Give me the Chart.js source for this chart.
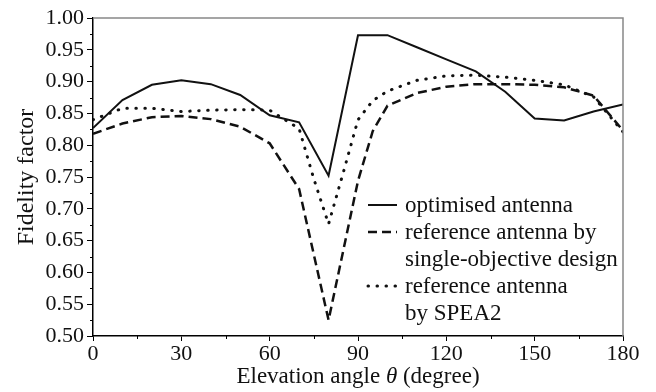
<!DOCTYPE html>
<html>
<head>
<meta charset="utf-8">
<script src="https://cdn.jsdelivr.net/npm/chart.js@4.4.1/dist/chart.umd.min.js"></script>
<style>
    html, body { margin: 0; padding: 0; background: #fff; }
</style>
</head>
<body>
<canvas id="fidelity-chart" width="656" height="392"></canvas>
<script>
// elevation angles (degree) and fidelity factor
var optimisedAngles = [0, 10, 20, 30, 40, 50, 60, 70, 80, 90, 100, 110, 120, 130, 140, 150, 160, 170, 180];
var optimisedValues = [0.827, 0.871, 0.895, 0.902, 0.896, 0.879, 0.847, 0.836, 0.752, 0.973, 0.973, 0.954, 0.935, 0.916, 0.884, 0.842, 0.839, 0.853, 0.864];

var singleAngles = [0, 10, 20, 30, 40, 50, 60, 70, 80, 90, 95, 100, 110, 120, 130, 140, 150, 160, 170, 180];
var singleValues = [0.818, 0.834, 0.844, 0.846, 0.841, 0.829, 0.803, 0.731, 0.525, 0.744, 0.822, 0.862, 0.882, 0.892, 0.896, 0.896, 0.895, 0.891, 0.878, 0.823];

var speaAngles = [0, 10, 20, 30, 40, 50, 60, 70, 75, 80, 85, 90, 95, 100, 110, 120, 130, 140, 150, 160, 170, 180];
var speaValues = [0.840, 0.858, 0.858, 0.853, 0.855, 0.856, 0.855, 0.826, 0.747, 0.676, 0.757, 0.840, 0.870, 0.885, 0.902, 0.909, 0.910, 0.907, 0.902, 0.895, 0.876, 0.821];

var xMinorTicks = [15, 45, 75, 105, 135, 165];
var yMinorTicks = [0.525, 0.575, 0.625, 0.675, 0.725, 0.775, 0.825, 0.875, 0.925, 0.975];

var xTitleParts = ['Elevation angle ', '\u03b8', ' (degree)'];
var yTitle = 'Fidelity factor';
var legendLabels = [
    ['optimised antenna'],
    ['reference antenna by', 'single-objective design'],
    ['reference antenna', 'by SPEA2']
];

var serif = '"Liberation Serif", "Times New Roman", serif';
var styles = [
    { dash: [], width: 2, cap: 'butt' },
    { dash: [9, 5], width: 2.5, cap: 'butt' },
    { dash: [0.5, 8.5], width: 3, cap: 'round' }
];

function toPoints(xs, ys) {
    var pts = [];
    for (var i = 0; i < xs.length; i++) {
        pts.push({ x: xs[i], y: ys[i] });
    }
    return pts;
}

var framePlugin = {
    id: 'frame',
    afterDraw: function (chart) {
        var ctx = chart.ctx;
        var area = chart.chartArea;
        var xs = chart.scales.x;
        var ys = chart.scales.y;

        ctx.save();
        // top and right border
        ctx.strokeStyle = '#888';
        ctx.lineWidth = 1.5;
        ctx.beginPath();
        ctx.moveTo(area.left, area.top);
        ctx.lineTo(area.right, area.top);
        ctx.lineTo(area.right, area.bottom);
        ctx.stroke();

        // minor ticks
        ctx.strokeStyle = '#000';
        ctx.lineWidth = 1;
        ctx.beginPath();
        xMinorTicks.forEach(function (v) {
            var px = Math.round(xs.getPixelForValue(v)) + 0.5;
            ctx.moveTo(px, area.bottom);
            ctx.lineTo(px, area.bottom + 3);
        });
        yMinorTicks.forEach(function (v) {
            var py = Math.round(ys.getPixelForValue(v)) + 0.5;
            ctx.moveTo(area.left, py);
            ctx.lineTo(area.left - 3, py);
        });
        ctx.stroke();

        // x axis title with italic theta
        ctx.fillStyle = '#111';
        ctx.textBaseline = 'alphabetic';
        var fonts = ['23px ' + serif, 'italic 23px ' + serif, '23px ' + serif];
        var total = 0;
        var widths = [];
        xTitleParts.forEach(function (t, i) {
            ctx.font = fonts[i];
            widths.push(ctx.measureText(t).width);
            total += widths[i];
        });
        var tx = (area.left + area.right) / 2 - total / 2;
        xTitleParts.forEach(function (t, i) {
            ctx.font = fonts[i];
            ctx.textAlign = 'left';
            ctx.fillText(t, tx, area.bottom + 47);
            tx += widths[i];
        });

        // legend
        var lineX0 = area.right - 255;
        var lineX1 = area.right - 226;
        var textX = area.right - 218;
        var rowY = area.bottom - 131;
        ctx.font = '23px ' + serif;
        ctx.textAlign = 'left';
        legendLabels.forEach(function (lines, i) {
            ctx.save();
            ctx.strokeStyle = '#111';
            ctx.lineWidth = styles[i].width;
            ctx.lineCap = styles[i].cap;
            ctx.setLineDash(styles[i].dash);
            ctx.beginPath();
            ctx.moveTo(lineX0, rowY);
            ctx.lineTo(lineX1, rowY);
            ctx.stroke();
            ctx.restore();
            lines.forEach(function (t) {
                ctx.fillText(t, textX, rowY + 7);
                rowY += 27;
            });
        });
        ctx.restore();
    }
};

var ctx = document.getElementById('fidelity-chart');
var FidelityChart = new Chart(ctx, {
    type: 'line',
    data: {
        datasets: [{
            label: legendLabels[0].join(' '),
            data: toPoints(optimisedAngles, optimisedValues),
            borderColor: '#111',
            borderWidth: styles[0].width,
            borderDash: styles[0].dash
        }, {
            label: legendLabels[1].join(' '),
            data: toPoints(singleAngles, singleValues),
            borderColor: '#111',
            borderWidth: styles[1].width,
            borderDash: styles[1].dash
        }, {
            label: legendLabels[2].join(' '),
            data: toPoints(speaAngles, speaValues),
            borderColor: '#111',
            borderWidth: styles[2].width,
            borderDash: styles[2].dash,
            borderCapStyle: styles[2].cap
        }]
    },
    plugins: [framePlugin],
    options: {
        responsive: false,
        animation: false,
        layout: {
            padding: { left: 0, top: 18, right: 33, bottom: 0 }
        },
        elements: {
            point: { radius: 0 },
            line: { tension: 0, fill: false }
        },
        plugins: {
            legend: { display: false },
            tooltip: { enabled: false }
        },
        scales: {
            x: {
                type: 'linear',
                min: 0,
                max: 180,
                ticks: {
                    stepSize: 30,
                    color: '#111',
                    padding: 0,
                    maxRotation: 0,
                    font: { family: serif, size: 22 }
                },
                grid: {
                    drawOnChartArea: false,
                    tickLength: 5,
                    tickColor: '#000'
                },
                border: { color: '#000', width: 1.5 },
                afterFit: function (scale) {
                    scale.height = 56;
                }
            },
            y: {
                min: 0.5,
                max: 1.0,
                ticks: {
                    stepSize: 0.05,
                    color: '#111',
                    padding: 3,
                    font: { family: serif, size: 22 },
                    callback: function (value) {
                        return value.toFixed(2);
                    }
                },
                grid: {
                    drawOnChartArea: false,
                    tickLength: 6,
                    tickColor: '#000'
                },
                border: { color: '#000', width: 1.5 },
                title: {
                    display: true,
                    text: yTitle,
                    color: '#111',
                    font: { family: serif, size: 24 },
                    padding: { top: 12, bottom: 0 }
                },
                afterFit: function (scale) {
                    scale.width = 93;
                }
            }
        }
    }
});
</script>
</body>
</html>
